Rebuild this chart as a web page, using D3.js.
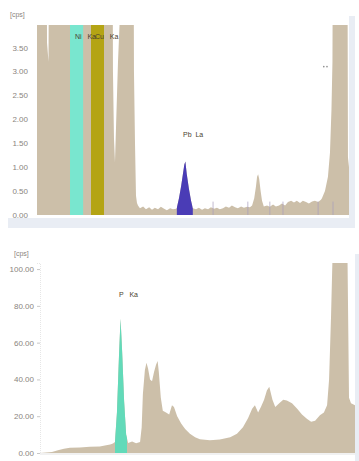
<!DOCTYPE html>
<html>
<head>
<meta charset="utf-8">
<script src="https://cdn.jsdelivr.net/npm/d3@7"></script>
<style>
  html, body { margin: 0; padding: 0; background: #fff; }
  svg { display: block; font-family: "Liberation Sans", Arial, sans-serif; }
</style>
</head>
<body>
<svg id="chart" width="359" height="461"></svg>
<script>
// ---------- Upper spectrum (Ni / Cu / Pb region), energy in keV, intensity in cps ----------
const topEnergy = [6.370, 6.511, 6.624, 6.652, 6.694, 6.736, 6.877, 7.159, 7.440, 7.722, 8.004, 8.285,
  8.483, 8.510, 8.539, 8.567, 8.595, 8.652, 8.708, 8.736, 8.764, 8.933, 9.074, 9.102, 9.131, 9.159,
  9.187, 9.215, 9.27, 9.36, 9.44, 9.53, 9.61, 9.69, 9.78, 9.86, 9.95, 10.03, 10.12, 10.20, 10.29,
  10.31, 10.37, 10.43, 10.48, 10.52, 10.55, 10.59, 10.65, 10.71, 10.76,
  10.85, 10.93, 11.02, 11.10, 11.19, 11.27, 11.36, 11.44, 11.52, 11.61, 11.69, 11.78, 11.86, 11.95,
  12.03, 12.12, 12.20, 12.29, 12.37,
  12.43, 12.49, 12.54, 12.57, 12.60, 12.63, 12.67, 12.71, 12.76,
  12.85, 12.93, 13.02, 13.10, 13.19, 13.27, 13.36, 13.44, 13.53, 13.61, 13.69, 13.78, 13.86, 13.95,
  14.03, 14.12, 14.20, 14.29, 14.37, 14.398, 14.483, 14.567, 14.624, 14.666, 14.694, 14.722,
  15.102, 15.131, 15.16];
const topCps = [12, 12, 10, 3.6, 3.2, 10, 12, 12, 12, 12, 12, 12,
  10, 3.0, 1.6, 1.1, 1.8, 3.2, 4.2, 6, 10, 12, 10, 3.0, 1.5, 0.4,
  0.25, 0.2, 0.14, 0.18, 0.12, 0.16, 0.11, 0.15, 0.12, 0.17, 0.13, 0.1, 0.14, 0.12, 0.13,
  0.15, 0.35, 0.6, 0.85, 1.05, 1.12, 0.85, 0.55, 0.3, 0.14,
  0.12, 0.15, 0.11, 0.14, 0.12, 0.16, 0.13, 0.15, 0.12, 0.14, 0.18, 0.15, 0.2, 0.16,
  0.14, 0.18, 0.15, 0.17, 0.16,
  0.2, 0.35, 0.6, 0.8, 0.85, 0.75, 0.5, 0.3, 0.18,
  0.2, 0.17, 0.22, 0.18, 0.2, 0.24, 0.2, 0.27, 0.3, 0.26, 0.3, 0.25, 0.3, 0.27,
  0.24, 0.28, 0.3, 0.27, 0.32, 0.35, 0.5, 0.8, 1.3, 2.2, 3.2, 10,
  10, 1.2, 1.0];
const topTicks = [0, 0.5, 1.0, 1.5, 2.0, 2.5, 3.0, 3.5];
// highlighted line windows: [from keV, to keV]
const topLines = ["Ni Ka", "Cu Ka", "Pb La"];
const topWindows = [[7.30, 7.67], [7.89, 8.26], [10.31, 10.76]];
const topWindowColors = ["#79e6cf", "#b4a414", "#4a3cb6"];
const topMarkers = [11.33, 12.31, 12.93, 13.30, 14.29, 14.71];
const topDots = [[14.45, 3.1], [14.54, 3.1]];

// ---------- Lower spectrum (P region) ----------
const lowEnergy = [0, 0.30, 0.45, 0.60, 0.75, 1.00, 1.25, 1.50, 1.66, 1.76, 1.83, 1.88, 1.93, 1.98,
  2.02, 2.06, 2.11, 2.16, 2.21, 2.31, 2.41, 2.51, 2.55, 2.58, 2.63, 2.67, 2.71, 2.76, 2.81, 2.86,
  2.91, 2.95, 2.98, 3.03, 3.08, 3.16, 3.24, 3.31, 3.36, 3.44, 3.54, 3.64, 3.76, 3.89, 4.01, 4.26,
  4.51, 4.77, 4.94, 5.09, 5.22, 5.32, 5.39, 5.47, 5.54, 5.62, 5.69, 5.75, 5.83, 5.90, 6.00, 6.10,
  6.19, 6.32, 6.45, 6.57, 6.70, 6.80, 6.90, 7.02, 7.12, 7.20, 7.25, 7.30, 7.34, 7.71, 7.75, 7.80, 7.90];
const lowCps = [0, 0.5, 1.5, 2.3, 2.8, 3.0, 3.4, 3.6, 4.2, 4.6, 5.2, 6, 22, 52,
  73, 55, 28, 10, 5.5, 6.2, 5.3, 6, 14, 32, 45, 49, 46, 40, 39, 44,
  48, 50, 44, 30, 23, 22, 21, 26, 25, 20, 16, 13, 10.5, 8.5, 7.5, 7,
  7.3, 8.5, 10.5, 14, 19, 24, 26, 22, 25, 29, 34, 36, 29, 25, 27, 29,
  28.5, 27, 24, 21, 18.5, 17, 17.5, 20.5, 22, 26, 40, 75, 110, 110, 30, 27, 26];
const lowTicks = [0, 20, 40, 60, 80, 100];
const lowLines = ["P Ka"];
const lowWindows = [[1.88, 2.18]];
const lowWindowColors = ["#62dab9"];

const svg = d3.select("#chart");
const tan = "#ccbfa9";

// card shading strips
svg.append("rect").attr("x", 8).attr("y", 218).attr("width", 344).attr("height", 10).attr("fill", "#e9edf4");
svg.append("rect").attr("x", 349).attr("y", 16).attr("width", 6).attr("height", 212).attr("fill", "#e9edf4");
svg.append("rect").attr("x", 355).attr("y", 254).attr("width", 4).attr("height", 207).attr("fill", "#e9edf4");

function drawSpectrum(cfg) {
  const g = svg.append("g");
  const x = d3.scaleLinear().domain(cfg.xDomain).range(cfg.xRange);
  const y = d3.scaleLinear().domain(cfg.yDomain).range(cfg.yRange);
  const pts = cfg.energy.map((e, i) => [e, cfg.cps[i]]);

  const clipId = cfg.id + "-clip";
  svg.append("defs").append("clipPath").attr("id", clipId)
    .append("rect")
    .attr("x", cfg.xRange[0]).attr("y", cfg.yRange[1])
    .attr("width", cfg.xRange[1] - cfg.xRange[0])
    .attr("height", cfg.yRange[0] - cfg.yRange[1]);

  const plot = g.append("g").attr("clip-path", `url(#${clipId})`);
  const area = d3.area().x(d => x(d[0])).y0(y(0)).y1(d => y(d[1]));

  plot.append("path").datum(pts).attr("d", area).attr("fill", cfg.fill);

  // line windows filled in their own colour
  cfg.windows.forEach((w, i) => {
    const wid = cfg.id + "-win" + i;
    svg.select("defs").append("clipPath").attr("id", wid)
      .append("rect")
      .attr("x", x(w[0])).attr("y", cfg.yRange[1])
      .attr("width", x(w[1]) - x(w[0]))
      .attr("height", cfg.yRange[0] - cfg.yRange[1]);
    plot.append("g").attr("clip-path", `url(#${wid})`)
      .append("path").datum(pts).attr("d", area).attr("fill", cfg.windowColors[i]);
  });

  if (cfg.markers) {
    plot.selectAll("line.marker").data(cfg.markers).join("line")
      .attr("class", "marker")
      .attr("x1", d => x(d)).attr("x2", d => x(d))
      .attr("y1", y(0)).attr("y2", y(0.28))
      .attr("stroke", "#a79dbd").attr("stroke-width", 0.7);
  }
  if (cfg.dots) {
    plot.selectAll("circle.dot").data(cfg.dots).join("circle")
      .attr("class", "dot")
      .attr("cx", d => x(d[0])).attr("cy", d => y(d[1]))
      .attr("r", 0.8).attr("fill", "#8a8a8a");
  }

  // y axis
  const axis = d3.axisLeft(y).tickValues(cfg.ticks)
    .tickFormat(d3.format(".2f")).tickSize(cfg.tickSize).tickPadding(cfg.tickPad);
  const ax = g.append("g").attr("transform", `translate(${cfg.xRange[0] + cfg.axisShift},0)`).call(axis);
  ax.select(".domain").attr("stroke", cfg.axisLine ? "#e6e6e6" : "none").attr("stroke-dasharray", "1,1");
  ax.selectAll(".tick line").attr("stroke", "#c8c8c8");
  ax.selectAll("text").attr("fill", "#8a847e").attr("font-size", 8)
    .attr("font-family", "'Liberation Sans', Arial, sans-serif");

  if (cfg.baseline) {
    g.append("line").attr("x1", cfg.xRange[0]).attr("x2", cfg.xRange[1])
      .attr("y1", y(0) + 1).attr("y2", y(0) + 1).attr("stroke", "#dcdcdc").attr("stroke-width", 0.8);
  }

  // unit label
  g.append("text").attr("x", cfg.unitPos[0]).attr("y", cfg.unitPos[1])
    .attr("font-size", 7).attr("fill", "#8a847e").text("[cps]");

  // line labels
  cfg.labels.forEach((lab, i) => {
    g.append("text").attr("x", cfg.labelPos[i][0]).attr("y", cfg.labelPos[i][1])
      .attr("font-size", 7).attr("fill", "#4a3f30")
      .attr("xml:space", "preserve").style("white-space", "pre")
      .text(lab);
  });
}

drawSpectrum({
  id: "upper",
  energy: topEnergy, cps: topCps,
  xDomain: [6.37, 15.16], xRange: [37, 349],
  yDomain: [0, 3.97], yRange: [215, 25],
  ticks: topTicks, tickSize: 0, tickPad: 9, axisShift: 0, axisLine: false,
  fill: tan,
  windows: topWindows, windowColors: topWindowColors,
  markers: topMarkers, dots: topDots,
  unitPos: [10, 17],
  labels: ["Ni   Ka", "Cu   Ka", "Pb  La"],
  labelPos: [[75, 39], [95, 39], [183, 137]],
  baseline: false
});

drawSpectrum({
  id: "lower",
  energy: lowEnergy, cps: lowCps,
  xDomain: [0, 7.9], xRange: [40, 355],
  yDomain: [0, 103.3], yRange: [453, 263],
  ticks: lowTicks, tickSize: 3, tickPad: 3, axisShift: 0, axisLine: true,
  fill: tan,
  windows: lowWindows, windowColors: lowWindowColors,
  unitPos: [14, 256],
  labels: ["P   Ka"],
  labelPos: [[119, 297]],
  baseline: true
});
</script>
</body>
</html>
